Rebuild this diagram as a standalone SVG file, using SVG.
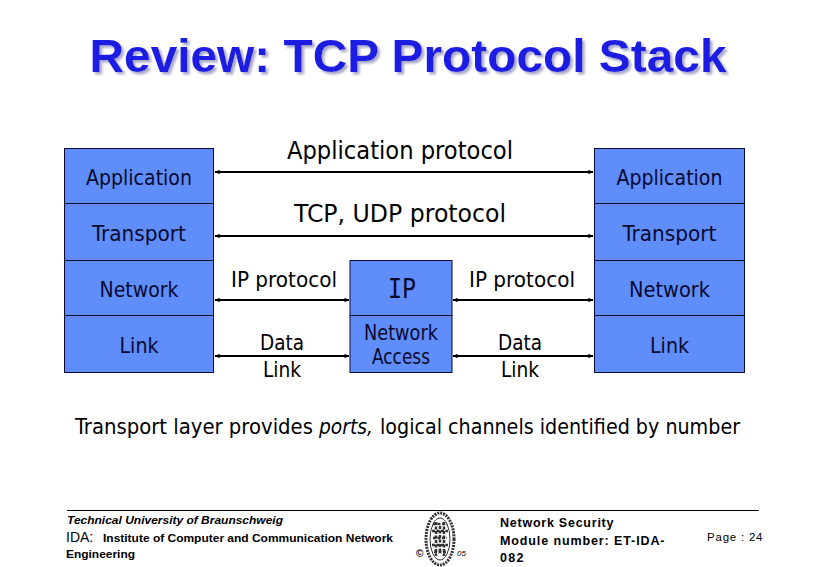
<svg xmlns="http://www.w3.org/2000/svg" width="817" height="567" viewBox="0 0 817 567">
<style>
text{font-family:"DejaVu Sans Condensed","DejaVu Sans",sans-serif;fill:#000;text-anchor:middle}
.box{fill:#5f8dfa;stroke:#0a0a30;stroke-width:1}
.lbl{font-size:21px;fill:#0a0a30}
.big{font-size:24px}
.mid{font-size:22px}
.title{font-family:"Liberation Sans",Arial,sans-serif;font-weight:bold;font-size:47px;fill:#1a1ae2}
.conn{stroke:#000;stroke-width:2;fill:none;marker-start:url(#a);marker-end:url(#b)}
.ft{font-family:"Liberation Sans",Arial,sans-serif;text-anchor:start;font-size:11px}
.fb{font-family:"Liberation Sans",Arial,sans-serif;text-anchor:start;font-size:12.5px;font-weight:bold;letter-spacing:.5px}
</style>
<defs>
<marker id="a" markerUnits="userSpaceOnUse" markerWidth="8" markerHeight="8" refX="1" refY="4" orient="auto"><path d="M1 4L5.500 1.800V6.200Z" fill="#000"/></marker>
<marker id="b" markerUnits="userSpaceOnUse" markerWidth="8" markerHeight="8" refX="6" refY="4" orient="auto"><path d="M6 4L1.500 1.800V6.200Z" fill="#000"/></marker>
<filter id="sh" x="-5%" y="-20%" width="110%" height="140%"><feDropShadow dx="2.500" dy="2.500" stdDeviation="0.800" flood-color="#a8a8c8"/></filter>
</defs>
<rect width="817" height="567" fill="#fff"/>
<g id="title">
<text class="title" x="408" y="72" filter="url(#sh)" textLength="637" lengthAdjust="spacingAndGlyphs">Review: TCP Protocol Stack</text>
</g>
<g id="connectors">
<path class="conn" d="M215 172H593"/>
<path class="conn" d="M215 236H593"/>
<path class="conn" d="M215 300H349"/>
<path class="conn" d="M453 300H593"/>
<path class="conn" d="M215 356H349"/>
<path class="conn" d="M453 356H593"/>
</g>
<g id="left-application"><rect class="box" x="64.500" y="148.500" width="149" height="55"/><text class="lbl" x="139" y="185" textLength="106" lengthAdjust="spacingAndGlyphs">Application</text></g>
<g id="left-transport"><rect class="box" x="64.500" y="203.500" width="149" height="57"/><text class="lbl" x="139" y="241" textLength="94" lengthAdjust="spacingAndGlyphs">Transport</text></g>
<g id="left-network"><rect class="box" x="64.500" y="260.500" width="149" height="55"/><text class="lbl" x="139" y="297" textLength="79" lengthAdjust="spacingAndGlyphs">Network</text></g>
<g id="left-link"><rect class="box" x="64.500" y="315.500" width="149" height="57"/><text class="lbl" x="139" y="353" textLength="39" lengthAdjust="spacingAndGlyphs">Link</text></g>
<g id="mid-ip"><rect class="box" x="350" y="260.500" width="102" height="55"/><text x="402" y="298" font-size="26" style="font-family:'DejaVu Sans Mono',monospace;fill:#0a0a30" textLength="28" lengthAdjust="spacingAndGlyphs">IP</text></g>
<g id="mid-access"><rect class="box" x="350" y="315.500" width="102" height="57"/><text class="lbl" x="401" y="340" textLength="74" lengthAdjust="spacingAndGlyphs">Network</text><text class="lbl" x="401" y="364" textLength="58" lengthAdjust="spacingAndGlyphs">Access</text></g>
<g id="right-application"><rect class="box" x="594.500" y="148.500" width="150" height="55"/><text class="lbl" x="669.500" y="185" textLength="106" lengthAdjust="spacingAndGlyphs">Application</text></g>
<g id="right-transport"><rect class="box" x="594.500" y="203.500" width="150" height="57"/><text class="lbl" x="669.500" y="241" textLength="94" lengthAdjust="spacingAndGlyphs">Transport</text></g>
<g id="right-network"><rect class="box" x="594.500" y="260.500" width="150" height="55"/><text class="lbl" x="669.500" y="297" textLength="81" lengthAdjust="spacingAndGlyphs">Network</text></g>
<g id="right-link"><rect class="box" x="594.500" y="315.500" width="150" height="57"/><text class="lbl" x="669.500" y="353" textLength="39" lengthAdjust="spacingAndGlyphs">Link</text></g>
<g id="labels">
<text class="big" x="400" y="159" textLength="226" lengthAdjust="spacingAndGlyphs">Application protocol</text>
<text class="big" x="400" y="222" textLength="212" lengthAdjust="spacingAndGlyphs">TCP, UDP protocol</text>
<text class="mid" x="284" y="287" textLength="106" lengthAdjust="spacingAndGlyphs">IP protocol</text>
<text class="mid" x="522" y="287" textLength="106" lengthAdjust="spacingAndGlyphs">IP protocol</text>
<text class="mid" x="282" y="350" textLength="44" lengthAdjust="spacingAndGlyphs">Data</text>
<text class="mid" x="282" y="377" textLength="38" lengthAdjust="spacingAndGlyphs">Link</text>
<text class="mid" x="520" y="350" textLength="44" lengthAdjust="spacingAndGlyphs">Data</text>
<text class="mid" x="520" y="377" textLength="38" lengthAdjust="spacingAndGlyphs">Link</text>
<text class="mid" x="75" y="434" style="text-anchor:start" textLength="238" lengthAdjust="spacingAndGlyphs">Transport layer provides</text>
<text class="mid" x="319" y="434" style="text-anchor:start" font-style="italic" textLength="54" lengthAdjust="spacingAndGlyphs">ports,</text>
<text class="mid" x="380" y="434" style="text-anchor:start" textLength="360" lengthAdjust="spacingAndGlyphs">logical channels identified by number</text>
</g>
<g id="footer">
<path d="M67 510.500H759" stroke="#000" stroke-width="1"/>
<text class="ft" x="67" y="524" font-style="italic" font-weight="bold" textLength="216" lengthAdjust="spacingAndGlyphs">Technical University of Braunschweig</text>
<text class="ft" x="66" y="542" style="font-size:14px">IDA:</text>
<text class="ft" x="103" y="542" font-weight="bold" textLength="290" lengthAdjust="spacingAndGlyphs">Institute of Computer and Communication Network</text>
<text class="ft" x="66" y="558" font-weight="bold" textLength="69" lengthAdjust="spacingAndGlyphs">Engineering</text>
<g id="seal" fill="none" stroke="#333">
<ellipse cx="440" cy="539" rx="14" ry="26" stroke-width="3" stroke-dasharray="2 1"/>
<ellipse cx="440" cy="539" rx="10" ry="21" stroke-width="1"/>
<path d="M433 524h14M432 531h16M433 538h14M432 545h16M434 552h12M436 522v34M444 522v34M440 526v26" stroke-width="2.500" stroke-dasharray="3 1.500"/>
</g>
<text class="ft" x="416" y="557" style="font-size:10px" font-weight="bold">©</text>
<text class="ft" x="457" y="556" style="font-size:8px" font-style="italic">05</text>
<text class="fb" x="500" y="527" textLength="114" lengthAdjust="spacing">Network Security</text>
<text class="fb" x="500" y="545" textLength="165" lengthAdjust="spacing">Module number: ET-IDA-</text>
<text class="fb" x="500" y="562" textLength="24" lengthAdjust="spacing">082</text>
<text class="fb" x="707" y="541" textLength="56" lengthAdjust="spacing" style="font-size:11.500px;font-weight:normal">Page : 24</text>
</g>
</svg>
